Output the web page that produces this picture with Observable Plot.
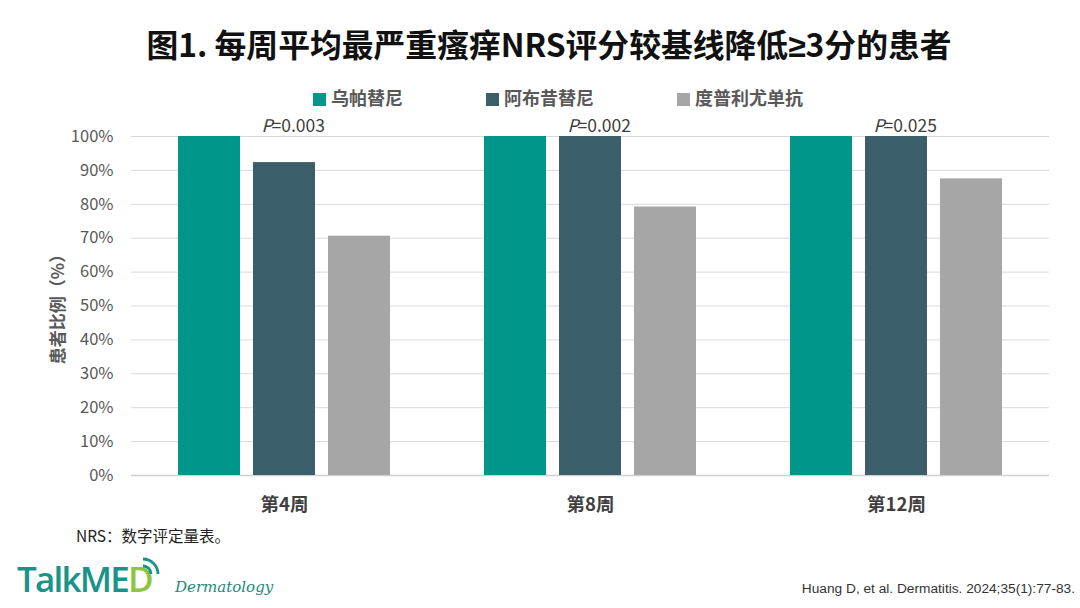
<!DOCTYPE html>
<html>
<head>
<meta charset="utf-8">
<script src="https://cdn.jsdelivr.net/npm/d3@7"></script>
<script src="https://cdn.jsdelivr.net/npm/@observablehq/plot@0.6"></script>
<style>
  html, body { margin: 0; padding: 0; background: #fff; }
  body { width: 1080px; height: 608px; position: relative; overflow: hidden;
         font-family: "Noto Sans CJK SC", "Noto Sans", sans-serif; }
  .abs { position: absolute; white-space: nowrap; }
  #title { left: 0; width: 1098px; top: 20px; text-align: center; font-size: 31.8px; font-weight: 700; color: #111; letter-spacing: 0px; }
  #title .ge { font-family: "Liberation Sans", "DejaVu Sans", sans-serif; }
  #legend { left: 0; top: 84px; width: 1080px; height: 26px; }
  .lg { position: absolute; top: 0; font-size: 18px; font-weight: 700; color: #595959; line-height: 26px; }
  .sw { display: inline-block; width: 13px; height: 13px; margin-right: 5px; vertical-align: -1px; }
  #chart { left: 0; top: 110px; }
  #ylabel { left: 56px; top: 305px; font-size: 17px; font-weight: 700; color: #595959;
            transform: translate(-50%, -50%) rotate(-90deg); }
  #note { left: 76px; top: 524px; font-size: 15.5px; color: #222; }
  #logo { left: 17px; top: 557px; font-family: "Open Sans", "Noto Sans", sans-serif; font-size: 35px; font-weight: 600; color: #1a9488; letter-spacing: -1.8px; line-height: 44px; }
  #logo .d { color: #8cc63e; }
  #derm { left: 175px; top: 578px; font-family: "DejaVu Serif", serif; font-style: italic; font-size: 15px; color: #1a8a7e; }
  #cite { right: 5px; top: 581px; font-family: "Liberation Sans", Arial, sans-serif; font-size: 13.7px; color: #333; }
</style>
</head>
<body>
<div id="title" class="abs">图1. 每周平均最严重瘙痒NRS评分较基线降低<span class="ge">≥</span>3分的患者</div>
<div id="legend" class="abs"></div>
<div id="chart" class="abs"></div>
<div id="ylabel" class="abs">患者比例（%）</div>
<div id="note" class="abs">NRS：数字评定量表。</div>
<div id="logo" class="abs">TalkME<span class="d">D</span></div>
<svg class="abs" style="left:139px;top:555px" width="24" height="24" viewBox="0 0 24 24">
  <path d="M4 11 A8 8 0 0 1 12 19" fill="none" stroke="#1a9488" stroke-width="2.8"/>
  <path d="M4 4 A15 15 0 0 1 19 19" fill="none" stroke="#1a9488" stroke-width="2.8"/>
</svg>
<div id="derm" class="abs">Dermatology</div>
<div id="cite" class="abs">Huang D, et al. Dermatitis. 2024;35(1):77-83.</div>
<script>
// ---- data ----
const weeks = ["第4周", "第8周", "第12周"];
const drugs = ["乌帕替尼", "阿布昔替尼", "度普利尤单抗"];
const upadacitinib = [100, 100, 100];
const abrocitinib = [92.3, 100, 100];
const dupilumab = [70.6, 79.2, 87.5];
const pValues = ["=0.003", "=0.002", "=0.025"];
const yTicks = [0, 10, 20, 30, 40, 50, 60, 70, 80, 90, 100];
const colors = ["#00968A", "#3B5F6A", "#A6A6A6"];

const seriesValues = [upadacitinib, abrocitinib, dupilumab];
const table = [];
weeks.forEach((w, i) => drugs.forEach((d, j) => table.push({week: w, drug: d, value: seriesValues[j][i]})));
const pTable = weeks.map((w, i) => ({week: w, drug: drugs[1], p: pValues[i]}));

// legend (HTML)
const legendX = [313, 486, 677];
const lg = document.getElementById("legend");
drugs.forEach((d, j) => {
  const el = document.createElement("div");
  el.className = "lg";
  el.style.left = legendX[j] + "px";
  el.innerHTML = `<span class="sw" style="background:${colors[j]}"></span>${d}`;
  lg.appendChild(el);
});

const chart = Plot.plot({
  width: 1080,
  height: 420,
  marginTop: 26,
  marginBottom: 55,
  marginLeft: 130,
  marginRight: 30,
  style: {fontFamily: "'Noto Sans CJK SC', 'Noto Sans', sans-serif", background: "transparent", overflow: "visible"},
  fx: {domain: weeks, padding: 0, label: null},
  x: {domain: drugs, paddingInner: 0.172, paddingOuter: 0.617, axis: null},
  y: {domain: [0, 100], label: null},
  color: {domain: drugs, range: colors},
  marks: [
    Plot.gridY(yTicks.slice(1), {stroke: "#d9d9d9", strokeOpacity: 1, strokeWidth: 1}),
    Plot.ruleY([0], {stroke: "#d0d0d0", strokeWidth: 1.5}),
    Plot.axisY({ticks: yTicks, tickFormat: d => d + "%", tickSize: 0, tickPadding: 18, fontSize: 16.5, fill: "#595959", label: null}),
    Plot.axisFx({anchor: "bottom", tickSize: 0, tickPadding: 22, fontSize: 18.5, fontWeight: 700, fill: "#404040", label: null}),
    Plot.barY(table, {fx: "week", x: "drug", y: "value", fill: "drug"}),
    Plot.text(pTable, {fx: "week", x: "drug", y: () => 100, text: () => "P", textAnchor: "end", lineAnchor: "bottom", dx: -12, dy: -5, fontSize: 17.5, fontStyle: "italic", fill: "#404040"}),
    Plot.text(pTable, {fx: "week", x: "drug", y: () => 100, text: "p", textAnchor: "start", lineAnchor: "bottom", dx: -13, dy: -5, fontSize: 17.5, fill: "#404040"})
  ]
});
document.getElementById("chart").appendChild(chart);
</script>
</body>
</html>
